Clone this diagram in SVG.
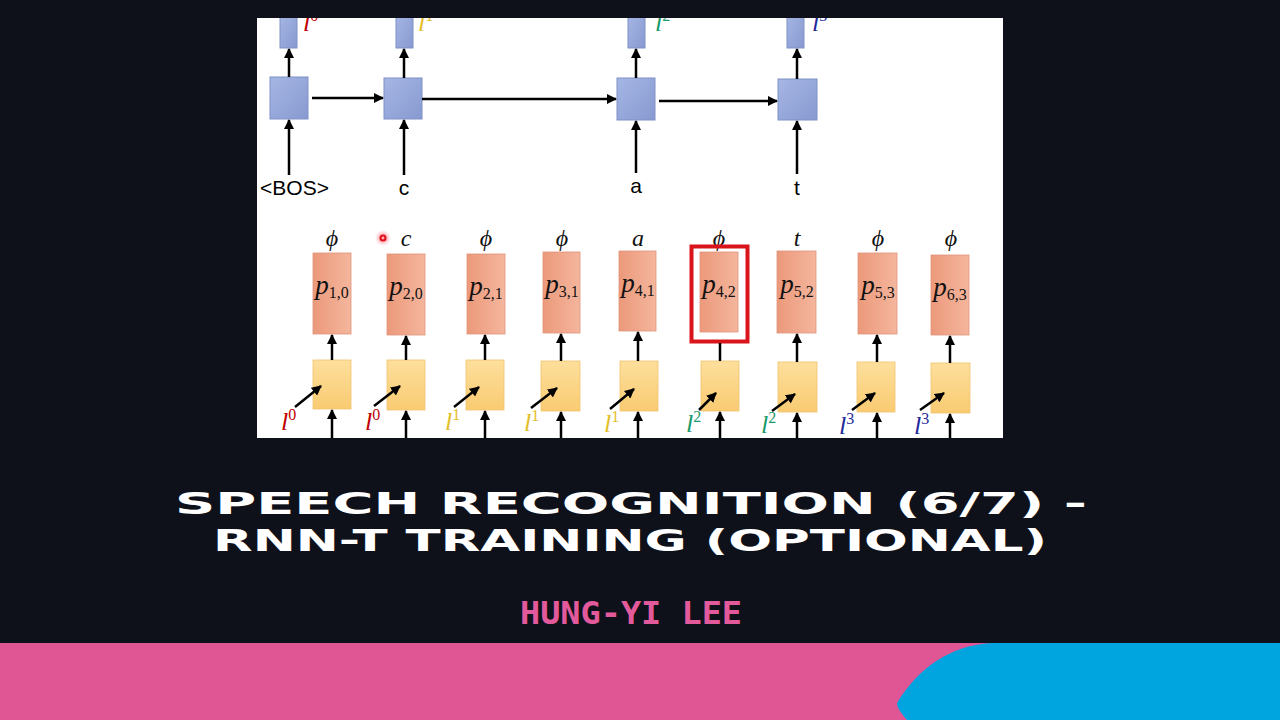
<svg xmlns="http://www.w3.org/2000/svg" width="1280" height="720" viewBox="0 0 1280 720">
<defs>
<linearGradient id="gBlue" x1="0" y1="0" x2="1" y2="1"><stop offset="0" stop-color="#a6b6e4"/><stop offset="1" stop-color="#8799d0"/></linearGradient>
<linearGradient id="gOr" x1="0" y1="0" x2="1" y2="0"><stop offset="0" stop-color="#ec997b"/><stop offset="1" stop-color="#f4b69d"/></linearGradient>
<linearGradient id="gYe" x1="0" y1="0" x2="0" y2="1"><stop offset="0" stop-color="#fddf9c"/><stop offset="1" stop-color="#f9cb72"/></linearGradient>
<radialGradient id="gGlow"><stop offset="0" stop-color="#ff3040" stop-opacity="0.7"/><stop offset="1" stop-color="#ff6070" stop-opacity="0"/></radialGradient>
<marker id="ah" viewBox="0 0 10 10" refX="9" refY="5" markerWidth="4" markerHeight="4" orient="auto" markerUnits="strokeWidth"><path d="M0,0 L10,5 L0,10 Z" fill="#000"/></marker>
<clipPath id="panel"><rect x="257" y="18" width="746" height="420"/></clipPath>
</defs>
<style>
.blue{fill:url(#gBlue);stroke:#7e91c6;stroke-width:1}
.or{fill:url(#gOr);stroke:#e2937a;stroke-width:0.8}
.ye{fill:url(#gYe);stroke:#f0c46e;stroke-width:0.8}
.ar{stroke:#000;stroke-width:2.5;fill:none;marker-end:url(#ah)}
.sans{font-family:"Liberation Sans","Open Sans",Arial,sans-serif;font-size:21px;fill:#000}
.math{font-family:"Liberation Serif","DejaVu Serif",serif}
.k{fill:#111}
.lbl{font-style:italic;font-size:26px}
.red{fill:#c00000}
.yel{fill:#e3be2b}
.grn{fill:#1a9a6a}
.nav{fill:#1f2a9a}
.it{font-style:italic}
.up{font-style:normal;font-size:16px}
.title{font-family:"DejaVu Sans","Liberation Sans",sans-serif;fill:#ffffff;font-size:31px;font-weight:bold}
</style>
<rect width="1280" height="720" fill="#0e111a"/>
<rect x="257" y="18" width="746" height="420" fill="#ffffff"/>

<g clip-path="url(#panel)">
<g id="decoder-top">
<g id="dec1"><rect class="blue" x="280" y="14" width="17" height="34"/><rect class="blue" x="270" y="77" width="38" height="42"/><text class="sans" x="294.5" y="195" text-anchor="middle">&lt;BOS&gt;</text><text class="math lbl red" x="303" y="31">l<tspan class="up" dy="-10">0</tspan></text></g>
<g id="dec2"><rect class="blue" x="396" y="14" width="17" height="34"/><rect class="blue" x="384" y="78" width="38" height="41"/><text class="sans" x="404" y="195" text-anchor="middle">c</text><text class="math lbl yel" x="418" y="31">l<tspan class="up" dy="-10">1</tspan></text></g>
<g id="dec3"><rect class="blue" x="628" y="14" width="17" height="34"/><rect class="blue" x="617" y="78" width="38" height="42"/><text class="sans" x="636" y="193" text-anchor="middle">a</text><text class="math lbl grn" x="655" y="31">l<tspan class="up" dy="-10">2</tspan></text></g>
<g id="dec4"><rect class="blue" x="787" y="14" width="17" height="34"/><rect class="blue" x="778" y="79" width="39" height="41"/><text class="sans" x="797" y="195" text-anchor="middle">t</text><text class="math lbl nav" x="812" y="31">l<tspan class="up" dy="-10">3</tspan></text></g>
</g>

<g id="joint-nodes">
<g id="col1"><rect class="or" x="313" y="253" width="38" height="81"/><rect class="ye" x="313" y="360" width="38" height="49"/><text class="math it k" x="332" y="246" font-size="24" text-anchor="middle">ϕ</text><text class="math k" x="332" y="294" text-anchor="middle"><tspan class="it" font-size="27">p</tspan><tspan font-size="16" dy="4">1,0</tspan></text><text class="math lbl red" x="281" y="430">l<tspan class="up" dy="-10">0</tspan></text></g>
<g id="col2"><rect class="or" x="387" y="254" width="38" height="81"/><rect class="ye" x="387" y="360" width="38" height="50"/><text class="math it k" x="406" y="246" font-size="24" text-anchor="middle">c</text><text class="math k" x="406" y="295" text-anchor="middle"><tspan class="it" font-size="27">p</tspan><tspan font-size="16" dy="4">2,0</tspan></text><text class="math lbl red" x="365" y="430">l<tspan class="up" dy="-10">0</tspan></text></g>
<g id="col3"><rect class="or" x="467" y="254" width="38" height="80"/><rect class="ye" x="466" y="360" width="38" height="50"/><text class="math it k" x="486" y="246" font-size="24" text-anchor="middle">ϕ</text><text class="math k" x="486" y="295" text-anchor="middle"><tspan class="it" font-size="27">p</tspan><tspan font-size="16" dy="4">2,1</tspan></text><text class="math lbl yel" x="445" y="430">l<tspan class="up" dy="-10">1</tspan></text></g>
<g id="col4"><rect class="or" x="543" y="252" width="37" height="81"/><rect class="ye" x="541" y="361" width="39" height="50"/><text class="math it k" x="562" y="246" font-size="24" text-anchor="middle">ϕ</text><text class="math k" x="562" y="293" text-anchor="middle"><tspan class="it" font-size="27">p</tspan><tspan font-size="16" dy="4">3,1</tspan></text><text class="math lbl yel" x="524" y="431">l<tspan class="up" dy="-10">1</tspan></text></g>
<g id="col5"><rect class="or" x="619" y="251" width="37" height="80"/><rect class="ye" x="620" y="361" width="38" height="50"/><text class="math it k" x="638" y="246" font-size="24" text-anchor="middle">a</text><text class="math k" x="638" y="292" text-anchor="middle"><tspan class="it" font-size="27">p</tspan><tspan font-size="16" dy="4">4,1</tspan></text><text class="math lbl yel" x="604" y="432">l<tspan class="up" dy="-10">1</tspan></text></g>
<g id="col6"><rect class="or" x="700" y="252" width="38" height="80"/><rect class="ye" x="701" y="361" width="38" height="50"/><text class="math it k" x="719" y="246" font-size="24" text-anchor="middle">ϕ</text><text class="math k" x="719" y="293" text-anchor="middle"><tspan class="it" font-size="27">p</tspan><tspan font-size="16" dy="4">4,2</tspan></text><text class="math lbl grn" x="686" y="432">l<tspan class="up" dy="-10">2</tspan></text><rect x="691.5" y="246.5" width="56" height="95" fill="none" stroke="#d9141b" stroke-width="4"/></g>
<g id="col7"><rect class="or" x="777" y="251" width="39" height="82"/><rect class="ye" x="778" y="362" width="39" height="50"/><text class="math it k" x="797" y="246" font-size="24" text-anchor="middle">t</text><text class="math k" x="797" y="293" text-anchor="middle"><tspan class="it" font-size="27">p</tspan><tspan font-size="16" dy="4">5,2</tspan></text><text class="math lbl grn" x="761" y="433">l<tspan class="up" dy="-10">2</tspan></text></g>
<g id="col8"><rect class="or" x="858" y="253" width="39" height="81"/><rect class="ye" x="857" y="362" width="38" height="50"/><text class="math it k" x="878" y="246" font-size="24" text-anchor="middle">ϕ</text><text class="math k" x="878" y="294" text-anchor="middle"><tspan class="it" font-size="27">p</tspan><tspan font-size="16" dy="4">5,3</tspan></text><text class="math lbl nav" x="839" y="434">l<tspan class="up" dy="-10">3</tspan></text></g>
<g id="col9"><rect class="or" x="931" y="255" width="38" height="80"/><rect class="ye" x="931" y="363" width="39" height="50"/><text class="math it k" x="951" y="246" font-size="24" text-anchor="middle">ϕ</text><text class="math k" x="950" y="296" text-anchor="middle"><tspan class="it" font-size="27">p</tspan><tspan font-size="16" dy="4">6,3</tspan></text><text class="math lbl nav" x="914" y="434">l<tspan class="up" dy="-10">3</tspan></text></g>
</g>

<g id="connectors">
<line class="ar" x1="289" y1="77" x2="289" y2="49"/>
<line class="ar" x1="404" y1="78" x2="404" y2="49"/>
<line class="ar" x1="636" y1="78" x2="636" y2="49"/>
<line class="ar" x1="797" y1="79" x2="797" y2="49"/>
<line class="ar" x1="312" y1="98" x2="383" y2="98"/>
<line class="ar" x1="422" y1="99" x2="616" y2="99"/>
<line class="ar" x1="659" y1="101" x2="777" y2="101"/>
<line class="ar" x1="289" y1="175" x2="289" y2="120"/>
<line class="ar" x1="404" y1="175" x2="404" y2="120"/>
<line class="ar" x1="636" y1="173" x2="636" y2="121"/>
<line class="ar" x1="797" y1="174" x2="797" y2="121"/>
<line class="ar" x1="332" y1="360" x2="332" y2="335"/>
<line class="ar" x1="406" y1="360" x2="406" y2="336"/>
<line class="ar" x1="485" y1="360" x2="485" y2="335"/>
<line class="ar" x1="561" y1="361" x2="561" y2="334"/>
<line class="ar" x1="638" y1="361" x2="638" y2="332"/>
<line x1="720" y1="361" x2="720" y2="343" stroke="#000" stroke-width="2.5"/>
<line class="ar" x1="797" y1="362" x2="797" y2="334"/>
<line class="ar" x1="877" y1="362" x2="877" y2="335"/>
<line class="ar" x1="950" y1="363" x2="950" y2="336"/>
<line class="ar" x1="332" y1="440" x2="332" y2="410"/>
<line class="ar" x1="406" y1="440" x2="406" y2="411"/>
<line class="ar" x1="485" y1="440" x2="485" y2="411"/>
<line class="ar" x1="561" y1="440" x2="561" y2="412"/>
<line class="ar" x1="638" y1="440" x2="638" y2="412"/>
<line class="ar" x1="720" y1="440" x2="720" y2="412"/>
<line class="ar" x1="797" y1="440" x2="797" y2="413"/>
<line class="ar" x1="877" y1="440" x2="877" y2="413"/>
<line class="ar" x1="950" y1="440" x2="950" y2="414"/>
<line class="ar" x1="295" y1="407" x2="321" y2="386"/>
<line class="ar" x1="374" y1="406" x2="400" y2="386"/>
<line class="ar" x1="454" y1="407" x2="479" y2="387"/>
<line class="ar" x1="531" y1="408" x2="557" y2="388"/>
<line class="ar" x1="610" y1="409" x2="634" y2="389"/>
<line class="ar" x1="699" y1="410" x2="716" y2="393"/>
<line class="ar" x1="772" y1="411" x2="795" y2="394"/>
<line class="ar" x1="852" y1="410" x2="875" y2="393"/>
<line class="ar" x1="920" y1="410" x2="944" y2="393"/>
</g>

<g id="laser">
<circle cx="383" cy="238" r="8" fill="url(#gGlow)"/>
<circle cx="383" cy="238" r="3.5" fill="#e0101c"/>
<circle cx="383" cy="238" r="1.4" fill="#ffb0b8"/>
</g>
</g>

<g id="title">
<text class="title" x="175" y="514" textLength="912" lengthAdjust="spacingAndGlyphs">SPEECH RECOGNITION (6/7) -</text>
<text class="title" x="213" y="551" textLength="834" lengthAdjust="spacingAndGlyphs">RNN-T TRAINING (OPTIONAL)</text>
<text x="520" y="624" font-family="DejaVu Sans Mono,monospace" font-weight="bold" font-size="32" fill="#e25a9c" textLength="222" lengthAdjust="spacingAndGlyphs">HUNG-YI LEE</text>
</g>

<g id="footer">
<rect x="0" y="643" width="1280" height="77" fill="#e05594"/>
<path d="M907,720 C900,712 897,707 897,703 C918,668 950,645 993,643 L1280,643 L1280,720 Z" fill="#00a5e0"/>
</g>
</svg>
